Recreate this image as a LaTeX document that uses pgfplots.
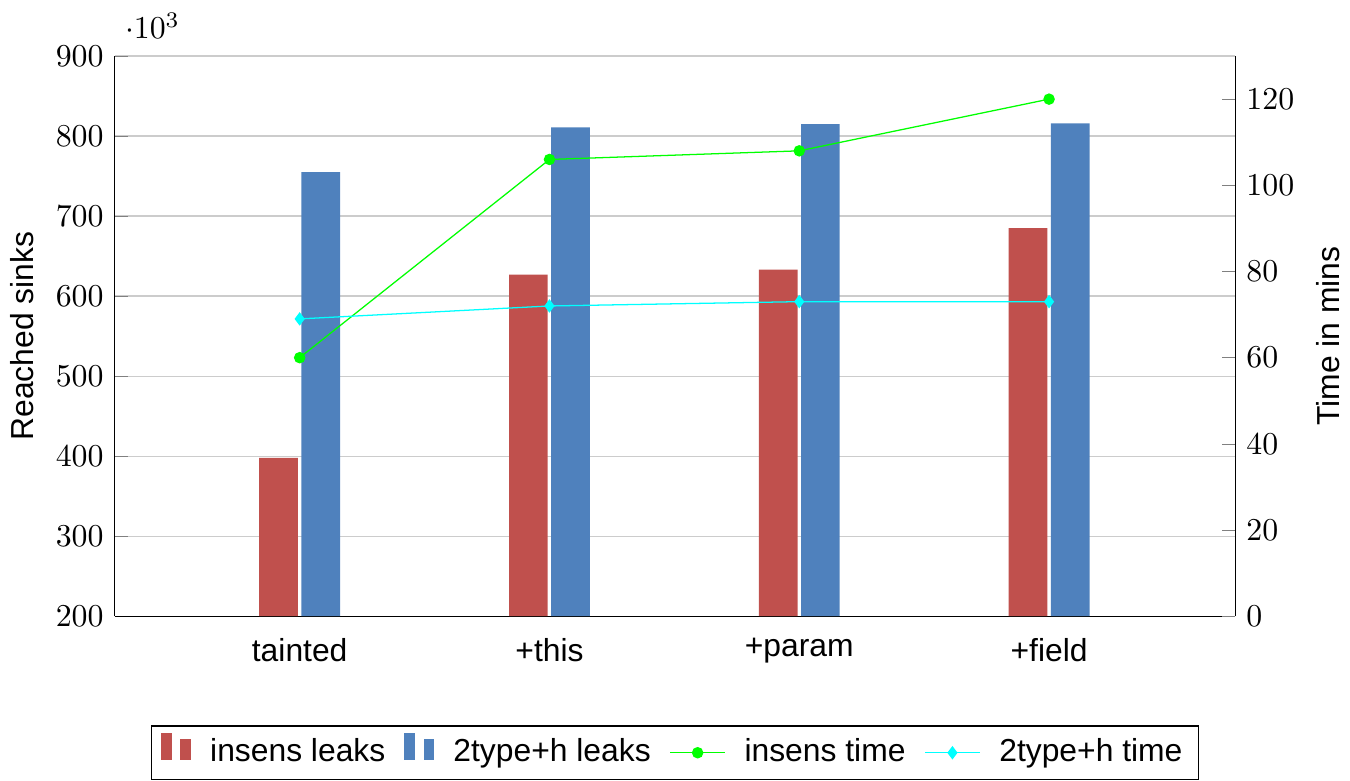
\documentclass[border=0pt]{standalone}
\usepackage{fontspec}
\setmainfont{Liberation Sans}
\usepackage{pgfplots}
\pgfplotsset{compat=1.18}
\definecolor{barred}{HTML}{C0504D}
\definecolor{barblue}{HTML}{4F81BD}
\definecolor{linegreen}{RGB}{0,255,0}
\definecolor{linecyan}{RGB}{0,255,255}
\begin{document}
\begin{tikzpicture}
\begin{axis}[
  scale only axis, width=352pt, height=176pt,
  xmin=-0.74, xmax=3.745,
  ymin=200000, ymax=900000,
  ytick={200000,300000,400000,500000,600000,700000,800000,900000},
  scaled y ticks=base 10:-3,
  xtick={0,1,2,3}, xticklabels={tainted,+this,+param,+field},
  axis y line*=left, axis x line*=bottom,
  tick align=inside,
  x tick style={draw=none},
  x tick label style={yshift=-3.5pt},
  y tick style={gray},
  ymajorgrids, grid style={gray!40},
  ylabel={Reached sinks},
]
\addplot[ybar, bar width=0.155, bar shift=-0.0845, fill=barred, draw=none] coordinates {(0,398000) (1,627000) (2,633000) (3,685000)};
\addplot[ybar, bar width=0.155, bar shift=0.0845, fill=barblue, draw=none] coordinates {(0,755000) (1,811000) (2,815000) (3,816000)};
\end{axis}
\begin{axis}[
  scale only axis, width=352pt, height=176pt,
  xmin=-0.74, xmax=3.745,
  ymin=0, ymax=130,
  ytick={0,20,40,60,80,100,120},
  axis y line*=right, axis x line=none,
  tick align=inside,
  y tick style={gray},
  ylabel={Time in mins},
  legend columns=4,
  legend style={at={(0.5,-0.195)}, anchor=north, draw=black,
    /tikz/every odd column/.append style={column sep=4pt},
    /tikz/every even column/.append style={column sep=4pt}},
]
\addlegendimage{ybar, ybar legend, fill=barred, draw=barred}
\addlegendentry{insens leaks}
\addlegendimage{ybar, ybar legend, fill=barblue, draw=barblue}
\addlegendentry{2type+h leaks}
\addplot[linegreen, mark=*, mark size=1.6pt] coordinates {(0,60) (1,106) (2,108) (3,120)};
\addlegendentry{insens time}
\addplot[linecyan, mark=diamond*, mark size=1.8pt] coordinates {(0,69) (1,72) (2,73) (3,73)};
\addlegendentry{2type+h time}
\end{axis}
\path ([yshift=4pt]current bounding box.north) -- ++(0,0);
\end{tikzpicture}
\end{document}
